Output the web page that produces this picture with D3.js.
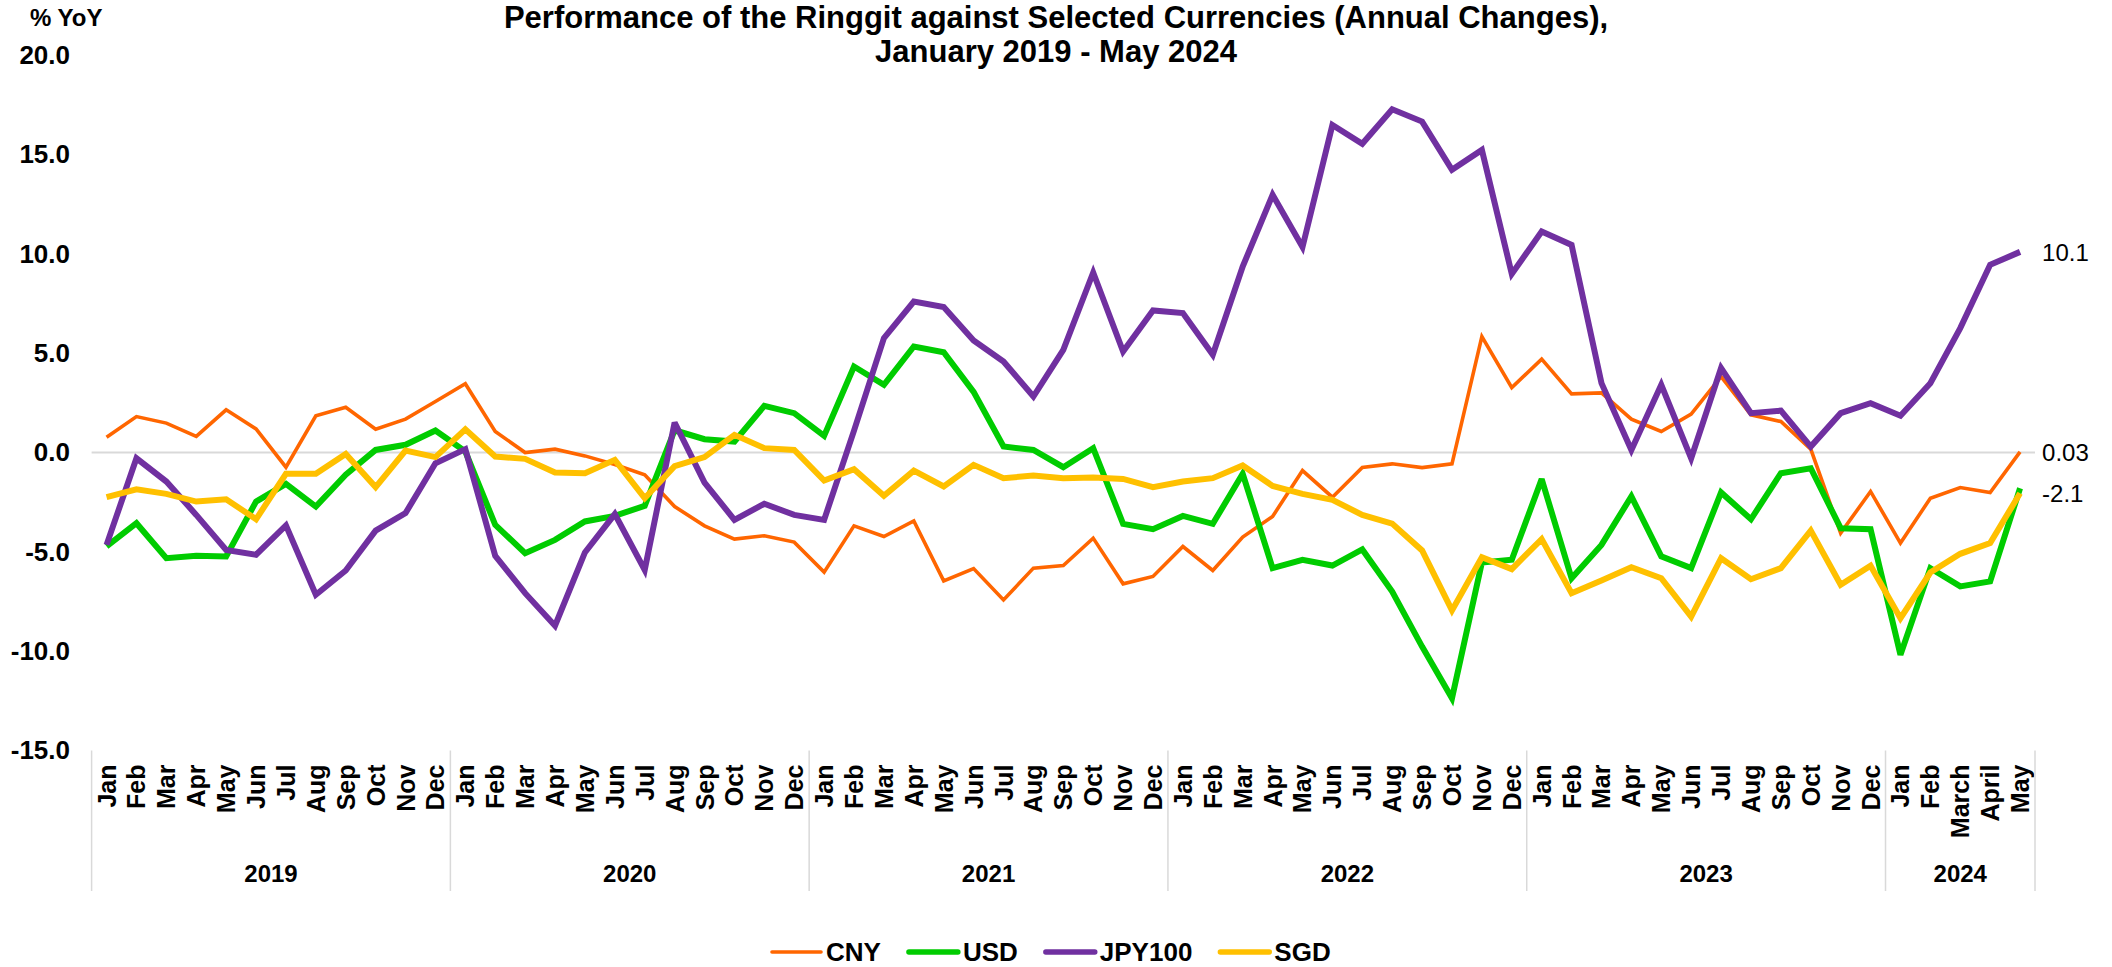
<!DOCTYPE html>
<html>
<head>
<meta charset="utf-8">
<script src="https://cdn.jsdelivr.net/npm/d3@7"></script>
<style>
  html, body { margin: 0; padding: 0; background: #fff; }
  svg { display: block; font-family: "Liberation Sans", Arial, sans-serif; }
</style>
</head>
<body>
<svg id="chart" width="2112" height="967"></svg>
<script>
// ---------- DATA ----------
const years = ["2019", "2020", "2021", "2022", "2023", "2024"];
const monthsPerYear = [12, 12, 12, 12, 12, 5];
const stdMonths = ["Jan","Feb","Mar","Apr","May","Jun","Jul","Aug","Sep","Oct","Nov","Dec"];
const months2024 = ["Jan","Feb","March","April","May"];
const monthLabels = [].concat(stdMonths, stdMonths, stdMonths, stdMonths, stdMonths, months2024);

const seriesNames = ["CNY", "USD", "JPY100", "SGD"];

const cny = [0.77,1.81,1.48,0.81,2.15,1.19,-0.74,1.85,2.28,1.17,1.68,2.57,
  3.46,1.06,0.0,0.17,-0.17,-0.6,-1.12,-2.72,-3.69,-4.36,-4.19,-4.51,
  -6.02,-3.69,-4.23,-3.44,-6.46,-5.84,-7.42,-5.82,-5.69,-4.31,-6.61,-6.24,
  -4.73,-5.94,-4.26,-3.22,-0.91,-2.25,-0.75,-0.57,-0.76,-0.57,5.84,3.27,
  4.70,2.95,3.0,1.68,1.06,1.93,3.82,1.90,1.56,0.17,-4.06,-1.96,
  -4.56,-2.30,-1.76,-2.01,0.03];

const usd = [-4.73,-3.56,-5.32,-5.20,-5.23,-2.47,-1.58,-2.72,-1.12,0.13,0.39,1.11,
  0.05,-3.64,-5.07,-4.40,-3.47,-3.19,-2.68,1.12,0.67,0.55,2.35,1.98,
  0.84,4.33,3.41,5.34,5.05,3.05,0.30,0.13,-0.74,0.22,-3.59,-3.86,
  -3.19,-3.59,-1.07,-5.82,-5.40,-5.69,-4.88,-7.00,-9.77,-12.37,-5.54,-5.40,
  -1.34,-6.33,-4.65,-2.21,-5.23,-5.82,-2.01,-3.36,-1.04,-0.79,-3.81,-3.86,
  -10.18,-5.82,-6.74,-6.49,-1.80];

const jpy100 = [-4.65,-0.29,-1.46,-3.14,-4.90,-5.15,-3.67,-7.16,-5.94,-3.93,-3.05,-0.54,
  0.17,-5.20,-7.08,-8.72,-5.03,-3.10,-5.91,1.51,-1.51,-3.39,-2.58,-3.14,
  -3.39,1.1,5.76,7.60,7.32,5.64,4.58,2.82,5.17,9.06,5.08,7.15,
  7.02,4.92,9.36,12.97,10.34,16.49,15.54,17.28,16.66,14.23,15.23,8.99,
  11.12,10.45,3.49,0.13,3.41,-0.29,4.25,1.98,2.11,0.30,1.98,2.48,
  1.85,3.49,6.26,9.45,10.1];

const sgd = [-2.25,-1.85,-2.08,-2.47,-2.35,-3.36,-1.07,-1.07,-0.07,-1.74,0.10,-0.23,
  1.17,-0.20,-0.32,-1.01,-1.04,-0.37,-2.30,-0.69,-0.23,0.89,0.22,0.13,
  -1.41,-0.84,-2.18,-0.91,-1.71,-0.62,-1.29,-1.16,-1.29,-1.26,-1.33,-1.74,
  -1.46,-1.29,-0.65,-1.68,-2.08,-2.38,-3.14,-3.58,-4.93,-7.95,-5.27,-5.87,
  -4.36,-7.08,-6.44,-5.77,-6.33,-8.26,-5.32,-6.38,-5.82,-3.93,-6.66,-5.70,
  -8.34,-6.04,-5.10,-4.56,-2.05];

const yTicks = [-15, -10, -5, 0, 5, 10, 15, 20];
const endLabelCNY = "0.03";
const endLabelJPY = "10.1";
const endLabelSGD = "-2.1";
const titleLines = ["Performance of the Ringgit against Selected Currencies (Annual Changes),", "January 2019 - May 2024"];
const yUnit = "% YoY";

// ---------- STYLE ----------
const colors = { CNY: "#FF6600", USD: "#00CC00", JPY100: "#7030A0", SGD: "#FFC000" };
const widths = { CNY: 3.6, USD: 6, JPY100: 6, SGD: 6 };
const legendWidths = { CNY: 3.6, USD: 5.4, JPY100: 5.4, SGD: 5.4 };
const seriesValues = { CNY: cny, USD: usd, JPY100: jpy100, SGD: sgd };
const labelText = { CNY: endLabelCNY, USD: "", JPY100: endLabelJPY, SGD: endLabelSGD };

const svg = d3.select("#chart");
const plotLeft = 91.6, plotRight = 2035, plotTop = 55.2, plotBottom = 750.5;

const idx = d3.range(monthLabels.length);
const x = d3.scaleBand().domain(idx).range([plotLeft, plotRight]).padding(0);
const y = d3.scaleLinear().domain([-15, 20]).range([plotBottom, plotTop]);
const bw = x.bandwidth();
const cx = i => x(i) + bw / 2;

// Title
const title = svg.append("text")
  .attr("x", 1056).attr("text-anchor", "middle")
  .style("font-weight", "bold").style("font-size", "31px").attr("fill", "#000");
title.append("tspan").attr("x", 1056).attr("y", 28).text(titleLines[0]);
title.append("tspan").attr("x", 1056).attr("y", 62).text(titleLines[1]);

// Y unit
svg.append("text").attr("x", 30).attr("y", 26)
  .style("font-weight", "bold").style("font-size", "24px").text(yUnit);

// Y axis
const yAxis = d3.axisLeft(y).tickValues(yTicks).tickSize(0).tickPadding(21.6)
  .tickFormat(d => d.toFixed(1));
const gy = svg.append("g").attr("transform", `translate(${plotLeft},0)`).call(yAxis);
gy.select(".domain").remove();
gy.selectAll("text").style("font-weight", "bold").style("font-size", "26px")
  .attr("fill", "#000").style("font-family", "'Liberation Sans', Arial, sans-serif");

// Zero line
svg.append("line")
  .attr("x1", plotLeft).attr("x2", plotRight)
  .attr("y1", y(0)).attr("y2", y(0))
  .attr("stroke", "#D9D9D9").attr("stroke-width", 2);

// X axis month labels
const xAxis = d3.axisBottom(x).tickSize(0).tickFormat(i => monthLabels[i]);
const gx = svg.append("g").attr("transform", `translate(0,${plotBottom})`).call(xAxis);
gx.select(".domain").remove();
gx.selectAll("text")
  .attr("transform", "rotate(-90)")
  .attr("x", -14).attr("y", 0).attr("dy", "0.36em")
  .attr("text-anchor", "end")
  .attr("fill", "#000")
  .style("font-weight", "bold").style("font-size", "25px")
  .style("font-family", "'Liberation Sans', Arial, sans-serif");

// Year groups
let start = 0;
const groups = years.map((yr, k) => {
  const g = { year: yr, start: start, end: start + monthsPerYear[k] - 1 };
  start += monthsPerYear[k];
  return g;
});
const sepTop = plotBottom, sepBottom = 891;
svg.selectAll("line.sep").data(groups).enter().append("line")
  .attr("class", "sep")
  .attr("x1", d => x(d.start)).attr("x2", d => x(d.start))
  .attr("y1", sepTop).attr("y2", sepBottom)
  .attr("stroke", "#D9D9D9").attr("stroke-width", 1.5);
svg.append("line")
  .attr("x1", x(groups[groups.length - 1].end) + bw).attr("x2", x(groups[groups.length - 1].end) + bw)
  .attr("y1", sepTop).attr("y2", sepBottom)
  .attr("stroke", "#D9D9D9").attr("stroke-width", 1.5);
svg.selectAll("text.year").data(groups).enter().append("text")
  .attr("class", "year")
  .attr("x", d => (x(d.start) + x(d.end) + bw) / 2)
  .attr("y", 873).attr("dy", "0.36em")
  .attr("text-anchor", "middle")
  .style("font-weight", "bold").style("font-size", "24px")
  .text(d => d.year);

// Lines
const line = d3.line().x((d, i) => cx(i)).y(d => y(d)).curve(d3.curveLinear);
seriesNames.forEach(name => {
  svg.append("path")
    .datum(seriesValues[name])
    .attr("d", line)
    .attr("fill", "none")
    .attr("stroke", colors[name])
    .attr("stroke-width", widths[name])
    .attr("stroke-linejoin", "miter")
    .attr("stroke-miterlimit", 3);
});

// End labels
seriesNames.forEach(name => {
  const t = labelText[name];
  if (!t) return;
  const vals = seriesValues[name];
  const last = vals.length - 1;
  svg.append("text")
    .attr("x", cx(last) + 22)
    .attr("y", y(vals[last]))
    .attr("dy", "0.36em")
    .style("font-size", "24px")
    .attr("fill", "#000")
    .text(t);
});

// Legend
const legend = svg.append("g");
let lx = 770;
const ly = 952;
seriesNames.forEach(name => {
  legend.append("line")
    .attr("x1", lx + 2).attr("x2", lx + 51)
    .attr("y1", ly).attr("y2", ly)
    .attr("stroke", colors[name]).attr("stroke-width", legendWidths[name])
    .attr("stroke-linecap", "round");
  const t = legend.append("text")
    .attr("x", lx + 56).attr("y", ly).attr("dy", "0.36em")
    .style("font-weight", "bold").style("font-size", "26px")
    .text(name);
  lx += 56 + t.node().getComputedTextLength() + 26;
});
</script>
</body>
</html>
